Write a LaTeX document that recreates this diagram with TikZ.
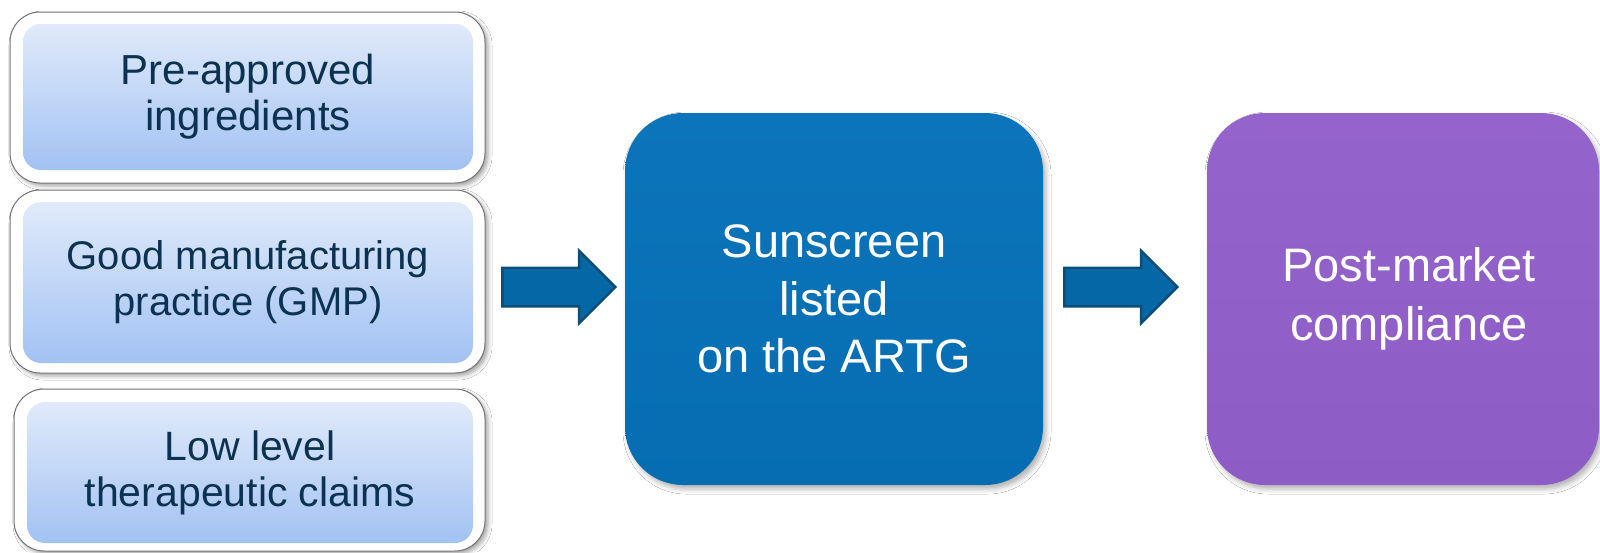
\documentclass[tikz,border=0pt]{standalone}
\usepackage{fontspec}
\setmainfont{Liberation Sans}
\usetikzlibrary{shapes.arrows,shadows.blur}
\definecolor{navytxt}{HTML}{0B3250}
\definecolor{innertop}{HTML}{E0EAFA}
\definecolor{innerbot}{HTML}{A2C2F3}
\definecolor{bluebox}{HTML}{066DB2}
\definecolor{blueboxtop}{HTML}{0C74BA}
\definecolor{purplebox}{HTML}{8E5CC5}
\definecolor{purpleboxtop}{HTML}{9463CC}
\definecolor{arrowfill}{HTML}{0567A6}
\definecolor{arrowline}{HTML}{0C4E7A}
\tikzset{
  frame/.style={draw=black!55, line width=1pt, fill=white, rounded corners=30pt,
    inner sep=0pt, blur shadow={shadow xshift=3pt, shadow yshift=-3pt, shadow blur radius=4pt, shadow opacity=35}},
  innerbox/.style={rounded corners=18pt, top color=innertop, bottom color=innerbot,
    inner sep=0pt, align=center, text=navytxt, font=\fontsize{41}{46}\selectfont},
  bigbox/.style={rounded corners=58pt, inner sep=0pt, align=center, text=white,
    blur shadow={shadow xshift=3pt, shadow yshift=-4pt, shadow blur radius=5pt, shadow opacity=30}},
  blockarrow/.style={shape=single arrow, draw=arrowline, fill=arrowfill, line width=2.5pt,
    inner xsep=0pt, inner ysep=18pt, minimum height=113pt, anchor=west,
    single arrow head extend=17pt, single arrow tip angle=90}
}
\begin{document}
\begin{tikzpicture}[x=1pt,y=1pt]
\useasboundingbox[fill=white] (0,0) rectangle (1600,-552);
% left frames
\node[frame, minimum width=475pt, minimum height=171pt] (f1) at (247.5,-97.5) {};
\node[frame, minimum width=475pt, minimum height=183pt] (f2) at (247.5,-281.5) {};
\node[frame, minimum width=471pt, minimum height=162pt] (f3) at (249.5,-470) {};
% inner boxes
\node[innerbox, minimum width=450pt, minimum height=146pt, font=\fontsize{42}{46}\selectfont] (i1) at (248,-97) {Pre-approved\\ingredients};
\node[innerbox, minimum width=450pt, minimum height=161pt, font=\fontsize{40}{46}\selectfont] (i2) at (248,-282.5) {Good manufacturing\\practice (GMP)};
\node[innerbox, minimum width=446pt, minimum height=141pt] (i3) at (250,-472.5) {Low level\\therapeutic claims};
% main boxes
\node[bigbox, top color=blueboxtop, bottom color=bluebox,
  minimum width=418pt, minimum height=372pt, font=\fontsize{47}{57.5}\selectfont] (b) at (834,-299) {Sunscreen\\listed\\on the ARTG};
\node[bigbox, top color=purpleboxtop, bottom color=purplebox,
  minimum width=392pt, minimum height=372pt, font=\fontsize{47}{59}\selectfont] (p) at (1403,-299) {\hspace*{12pt}Post-market\\\hspace*{12pt}compliance};
% block arrows
\node[blockarrow] (a1) at (501,-287) {};
\node[blockarrow] (a2) at (1063,-287) {};
\end{tikzpicture}
\end{document}
